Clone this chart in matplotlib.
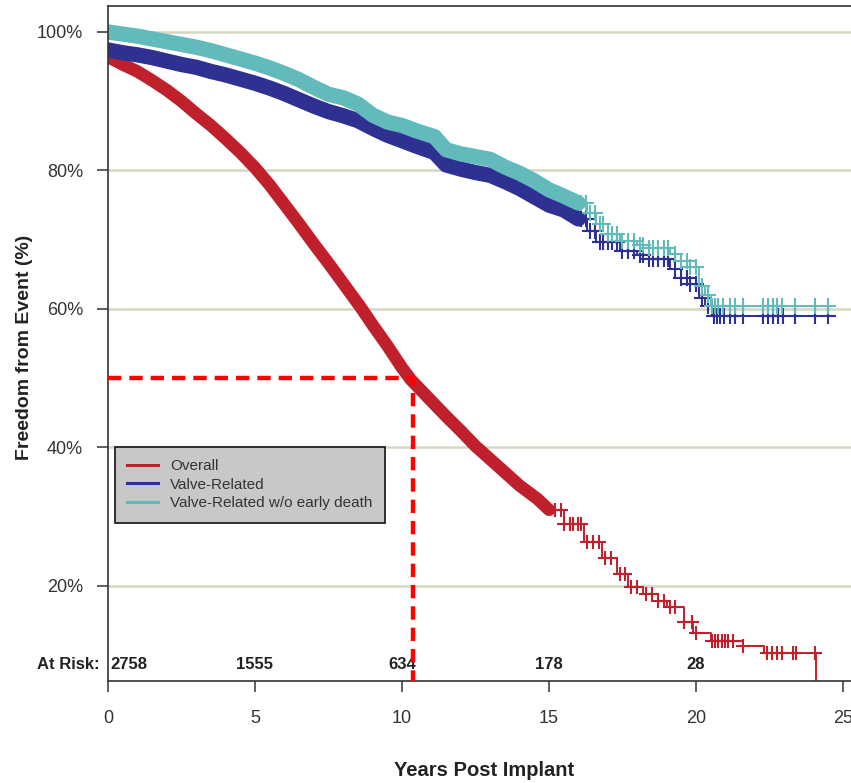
import matplotlib
matplotlib.use("Agg")
import matplotlib.pyplot as plt
import numpy as np

plt.rcParams['font.family'] = ['Liberation Sans', 'DejaVu Sans']

# Kaplan-Meier estimates (years, % free from event)
overall_t = [0, 0.5, 1.0, 1.5, 2.0, 2.5, 3.0, 3.5, 4.0, 4.5, 5.0, 5.5, 6.0, 6.5, 7.0, 7.5,
             8.0, 8.6, 9.0, 9.5, 10.0, 10.3, 11.0, 11.5, 12.0, 12.5, 13.0, 13.5, 14.0, 14.6,
             15.0, 15.5, 16.2, 16.8, 17.3, 17.7, 18.2, 18.7, 19.0, 19.6, 19.9, 20.5, 21.6,
             22.3, 24.08]
overall_s = [96.4, 95.3, 94.3, 93.0, 91.6, 90.0, 88.2, 86.5, 84.6, 82.6, 80.4, 77.9, 75.1,
             72.3, 69.4, 66.6, 63.7, 60.2, 57.7, 54.7, 51.5, 49.8, 46.7, 44.5, 42.4, 40.2,
             38.3, 36.4, 34.5, 32.6, 31.0, 29.0, 26.4, 24.0, 21.7, 19.9, 18.9, 17.9, 17.0,
             14.8, 13.2, 12.0, 11.4, 10.3, 0.0]
overall_cens = [15.2, 15.4, 15.5, 15.7, 15.8, 16.0, 16.1, 16.3, 16.5, 16.7, 16.9, 17.1, 17.4,
                17.6, 17.8, 18.0, 18.3, 18.5, 18.7, 18.9, 19.1, 19.3, 19.6, 19.86, 20.0,
                20.54, 20.65, 20.75, 20.88, 20.99, 21.09, 21.26, 21.6, 22.41, 22.59, 22.76,
                22.93, 23.3, 23.4, 24.05]

valve_t = [0, 0.5, 1.0, 1.5, 2.0, 2.5, 3.0, 3.5, 4.0, 4.5, 5.0, 5.5, 6.0, 6.5, 7.0, 7.5, 8.0,
           8.5, 9.0, 9.5, 10.0, 10.5, 11.1, 11.5, 12.0, 12.5, 13.0, 13.5, 14.0, 14.5, 15.0,
           15.5, 16.0, 16.3, 16.6, 17.4, 18.0, 18.4, 19.1, 19.5, 19.8, 20.1, 20.3, 20.55, 24.7]
valve_s = [97.4, 97.0, 96.7, 96.3, 95.8, 95.3, 94.9, 94.3, 93.8, 93.2, 92.6, 91.9, 91.1, 90.2,
           89.3, 88.5, 87.9, 87.2, 86.1, 85.1, 84.3, 83.5, 82.6, 80.8, 80.2, 79.7, 79.3, 78.4,
           77.4, 76.2, 75.0, 74.3, 73.0, 71.2, 69.7, 68.4, 67.8, 67.2, 65.8, 64.5, 63.6, 61.6,
           60.4, 59.0, 59.0]

early_t = [0, 0.5, 1.0, 1.5, 2.0, 2.5, 3.0, 3.5, 4.0, 4.5, 5.0, 5.5, 6.0, 6.5, 7.0, 7.5, 8.0,
           8.5, 9.0, 9.5, 10.0, 10.5, 11.1, 11.5, 12.0, 12.5, 13.0, 13.5, 14.0, 14.5, 15.0,
           15.5, 16.0, 16.3, 16.6, 17.0, 17.4, 18.0, 18.4, 19.1, 19.5, 19.8, 20.1, 20.3, 20.5,
           24.7]
early_s = [100.0, 99.7, 99.4, 99.0, 98.6, 98.2, 97.8, 97.3, 96.7, 96.1, 95.5, 94.8, 94.0, 93.1,
           92.0, 91.0, 90.5, 89.6, 88.0, 87.0, 86.5, 85.7, 84.9, 83.0, 82.4, 82.0, 81.6, 80.5,
           79.6, 78.5, 77.2, 76.3, 75.3, 73.8, 72.3, 70.8, 69.8, 69.2, 68.8, 68.0, 67.0, 66.0,
           63.3, 62.0, 60.4, 60.4]

valve_cens = [16.1, 16.25, 16.4, 16.56, 16.73, 16.84, 17.0, 17.15, 17.3, 17.5, 17.7, 17.9,
              18.1, 18.2, 18.4, 18.55, 18.7, 18.9, 19.05, 19.3, 19.5, 19.7, 19.8, 20.0, 20.2,
              20.4, 20.6, 20.7, 20.8, 20.95, 21.16, 21.33, 21.6, 22.28, 22.45, 22.62, 22.78,
              22.95, 23.37, 24.05, 24.49]
early_cens = [16.1, 16.25, 16.4, 16.56, 16.73, 16.84, 17.0, 17.15, 17.3, 17.5, 17.7, 17.9,
              18.1, 18.2, 18.4, 18.55, 18.7, 18.9, 19.05, 19.3, 19.5, 19.7, 19.8, 20.0, 20.2,
              20.4, 20.54, 20.65, 20.75, 20.92, 21.16, 21.33, 21.6, 22.28, 22.45, 22.62,
              22.76, 22.93, 23.37, 24.05, 24.49]

risk_times = [0, 5, 10, 15, 20]
risk_counts = [2758, 1555, 634, 178, 28]

median_time = 10.37
median_level = 50

labels = ["Overall", "Valve-Related", "Valve-Related w/o early death"]
colors = ["#c0202c", "#2e3192", "#62baba"]

ylo, yhi = 6.28, 103.75

fig = plt.figure(figsize=(8.51, 7.83), dpi=100)
ax = fig.add_axes([108 / 851, 1 - 681 / 783, 743 / 851, 675 / 783])
ax.set_xlim(0, 743 / 29.4)
ax.set_ylim(ylo, yhi)

for v in [20, 40, 60, 80, 100]:
    ax.axhline(v, color="#d6d6c2", lw=1.8, zorder=0)


def km(t, s, cens, color, band_end, band_lw, ms):
    t = np.array(t)
    s = np.array(s)
    # dense censoring early on: draw as a solid band
    m = t <= band_end
    ax.plot(t[m], s[m], color=color, lw=band_lw, solid_capstyle="round",
            solid_joinstyle="round", zorder=2)
    m2 = t >= band_end
    ax.step(t[m2], s[m2], where="post", color=color, lw=1.4, zorder=2)
    idx = np.searchsorted(t, cens, side="right") - 1
    ax.plot(cens, s[idx], ls="none", marker="+", ms=ms, mew=1.5, color=color, zorder=2)


km(overall_t, overall_s, overall_cens, colors[0], 15.0, 9, 10)
km(valve_t, valve_s, valve_cens, colors[1], 16.0, 11, 12)
km(early_t, early_s, early_cens, colors[2], 16.0, 11, 12)

# median survival marker
ax.plot([0, median_time, median_time], [median_level, median_level, ylo],
        color="#ff0000", lw=3.2, dashes=(3, 1.8), zorder=5, clip_on=False)

# numbers at risk
ax.text(-0.27, 8.6, "At Risk:", ha="right", va="center", fontsize=12,
        fontweight="bold", color="#222222", clip_on=False)
for i, (rt, n) in enumerate(zip(risk_times, risk_counts)):
    ax.text(rt + (0.07 if i == 0 else 0), 8.6, str(n), ha="left" if i == 0 else "center",
            va="center", fontsize=12, fontweight="bold", color="#222222", zorder=3)

ax.set_yticks([20, 40, 60, 80, 100])
ax.set_yticklabels(["20%", "40%", "60%", "80%", "100%"])
ax.set_xticks([0, 5, 10, 15, 20, 25])
ax.tick_params(axis="both", direction="out", length=8, width=1.1, colors="#333333",
               labelsize=13, labelcolor="#333333")
ax.tick_params(axis="y", pad=10)
ax.tick_params(axis="x", pad=13)

for side in ["top", "left", "bottom"]:
    ax.spines[side].set_color("#333333")
    ax.spines[side].set_linewidth(1.2)
ax.spines["right"].set_visible(False)

fig.text(25 / 851, 1 - 347 / 783, "Freedom from Event (%)", rotation=90, ha="center",
         va="center", fontsize=14, fontweight="bold", color="#222222")
fig.text(484 / 851, 1 - 771 / 783, "Years Post Implant", ha="center", va="center",
         fontsize=14.5, fontweight="bold", color="#222222")

handles = [plt.Line2D([], [], color=c, lw=2.2) for c in colors]
leg = ax.legend(handles, labels, loc="upper left", bbox_to_anchor=(115 / 851, 1 - 447 / 783),
                bbox_transform=fig.transFigure, borderaxespad=0, fancybox=False,
                framealpha=1, facecolor="#c8c8c8", edgecolor="#222222", fontsize=11,
                handlelength=2.0, handletextpad=0.8, labelspacing=0.3, borderpad=0.8)
leg.get_frame().set_linewidth(1.3)
for txt in leg.get_texts():
    txt.set_color("#333333")

fig.savefig("out.png", dpi=100)
